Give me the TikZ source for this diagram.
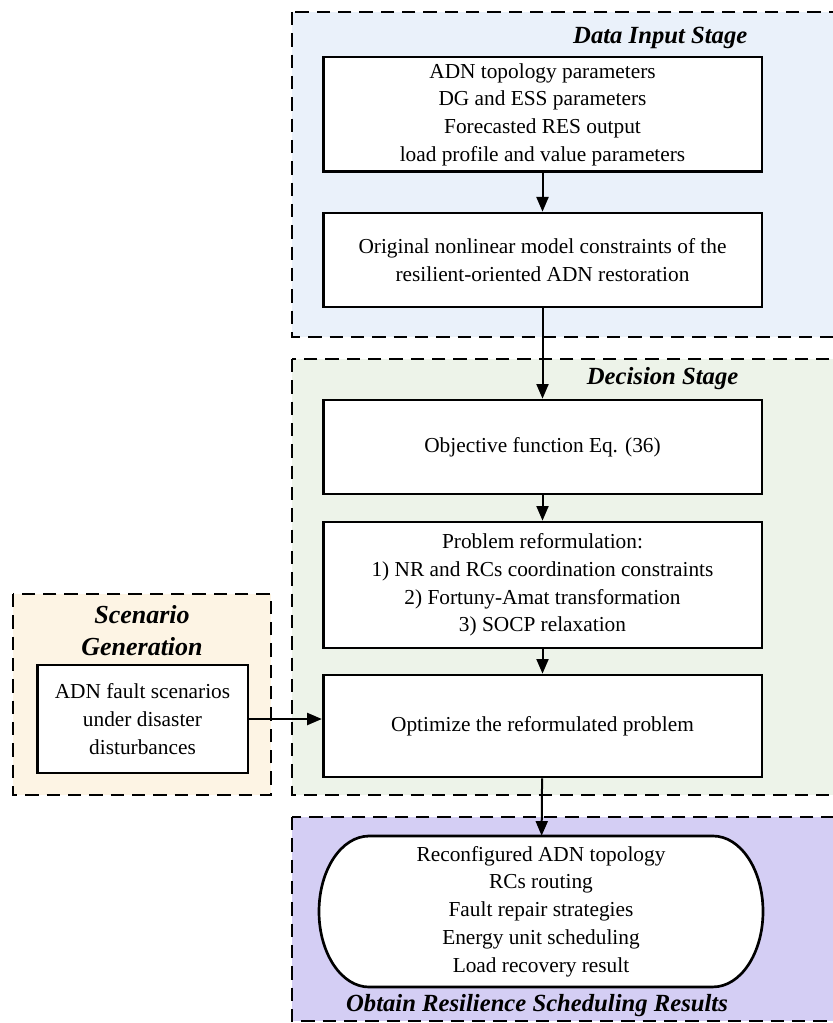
\documentclass[tikz,border=0pt]{standalone}
\usepackage{fontspec}
\setmainfont{Liberation Serif}
\usetikzlibrary{positioning, calc, arrows.meta}

\definecolor{inputblue}{RGB}{234,241,250}
\definecolor{decisiongreen}{RGB}{237,243,233}
\definecolor{scenarioorange}{RGB}{253,244,228}
\definecolor{resultpurple}{RGB}{212,206,244}

\begin{document}
\begin{tikzpicture}[
        x=0.75pt, y=-0.75pt,
        stage/.style={
            draw,
            line width=2.2pt,
            dash pattern=on 10pt off 6pt
        },
        procbox/.style={
            draw,
            line width=2pt,
            fill=white,
            align=center,
            minimum width=329pt,
            font=\fontsize{16}{20.8}\selectfont
        },
        stagetitle/.style={
            font=\fontsize{18.5}{24}\selectfont\bfseries\itshape,
            align=center
        },
        flow/.style={
            line width=1.5pt,
            -{Triangle[length=11pt, width=9pt]}
        }
    ]

        \useasboundingbox (0,0) rectangle (832,1023);

        % Stage frames
        \draw[stage, fill=inputblue] (292,12) rectangle (850,337);
        \draw[stage, fill=decisiongreen] (292,359) rectangle (850,795);
        \draw[stage, fill=scenarioorange] (13,594) rectangle (271,795);
        \draw[stage, fill=resultpurple] (292,817) rectangle (850,1021);

        % Stage titles
        \node[stagetitle, anchor=east] (titleinput) at (752,38) {Data Input Stage};
        \node[stagetitle, anchor=east] (titledecision) at (743,379) {Decision Stage};
        \node[stagetitle, font=\fontsize{19.5}{24}\selectfont\bfseries\itshape] (titlescenario) at (142,631) {Scenario\\Generation};
        \node[stagetitle] (titleresult) at (537,1006) {Obtain Resilience Scheduling Results};

        % Data input stage
        \node[procbox, minimum height=86pt] (params) at (542.5,114.5)
            {ADN topology parameters\\DG and ESS parameters\\Forecasted RES output\\load profile and value parameters};
        \node[procbox, minimum height=70.5pt] (original) at (542.5,260)
            {Original nonlinear model constraints of the\\resilient-oriented ADN restoration};

        % Decision stage
        \node[procbox, minimum height=70.5pt] (objective) at (542.5,447)
            {Objective function Eq. (36)};
        \node[procbox, minimum height=94.5pt] (reform) at (542.5,585)
            {Problem reformulation:\\1) NR and RCs coordination constraints\\2) Fortuny-Amat transformation\\3) SOCP relaxation};
        \node[procbox, minimum height=76.5pt] (optimize) at (542.5,726)
            {Optimize the reformulated problem};

        % Scenario generation
        \node[procbox, minimum width=158pt, minimum height=81pt] (faults) at (142.5,719)
            {ADN fault scenarios\\under disaster\\disturbances};

        % Results (stadium outline)
        \coordinate (rescenter) at (541,911.5);
        \draw[line width=2pt, fill=white] ($(rescenter)+(-172,-75.5)$) -- ($(rescenter)+(172,-75.5)$)
            arc[start angle=90, end angle=-90, x radius=37.5pt, y radius=56.6pt]
            -- ($(rescenter)+(-172,75.5)$)
            arc[start angle=270, end angle=90, x radius=37.5pt, y radius=56.6pt] -- cycle;
        \node[align=center, minimum width=333pt, minimum height=113.25pt, inner sep=0pt,
              font=\fontsize{16}{20.8}\selectfont] (results) at (rescenter)
            {Reconfigured ADN topology\\RCs routing\\Fault repair strategies\\Energy unit scheduling\\Load recovery result};

        % Connectors
        \draw[flow] (params) -- (original);
        \draw[flow] (original) -- (objective);
        \draw[flow] (objective) -- (reform);
        \draw[flow] (reform) -- (optimize);
        \draw[flow] (optimize) -- (results);
        \draw[flow] (faults.east) -- (faults.east -| optimize.west);

    \end{tikzpicture}
\end{document}
